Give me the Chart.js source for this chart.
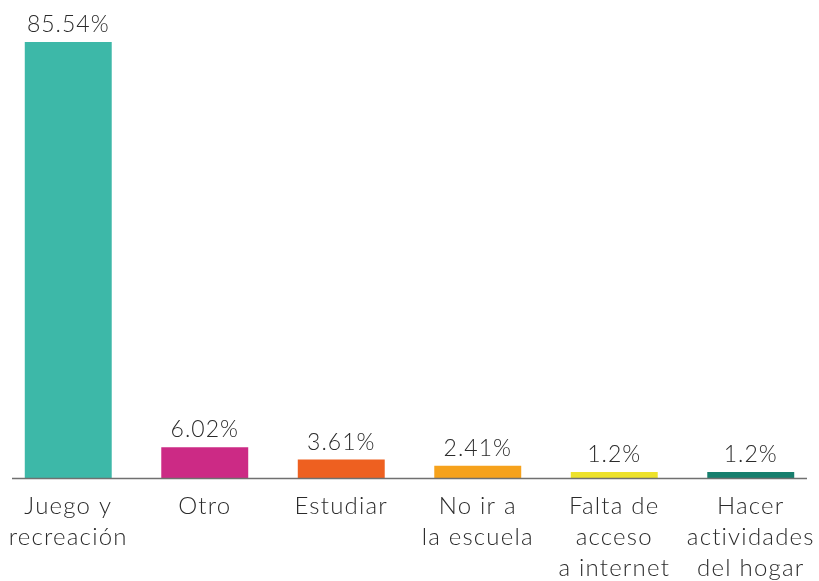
<!DOCTYPE html>
<html><head><meta charset="utf-8">
<script src="https://cdn.jsdelivr.net/npm/chart.js@4"></script>
<style>html,body{margin:0;padding:0;background:#fff}#w{width:819px;height:581px}</style>
</head><body><div id="w"><canvas id="c"></canvas></div>
<script>
const categories = [["Juego y","recreación"],["Otro"],["Estudiar"],["No ir a","la escuela"],["Falta de","acceso","a internet"],["Hacer","actividades","del hogar"]];
const values = [85.54, 6.02, 3.61, 2.41, 1.2, 1.2];
const valueLabels = ["85.54%","6.02%","3.61%","2.41%","1.2%","1.2%"];
const colors = ["#3db8a8","#cc2a85","#ee6020","#f6a21c","#ede22b","#177f6e"];
const FONT = "Lato, 'Open Sans', sans-serif";

const spacingPlugin = {
  id:'spacing',
  beforeDraw(chart){ chart.ctx.letterSpacing = "1.2px"; }
};
const labelPlugin = {
  id:'vlabels',
  afterDatasetsDraw(chart){
    const ctx = chart.ctx;
    const meta = chart.getDatasetMeta(0);
    ctx.save();
    ctx.letterSpacing = "1px";
    ctx.font = "300 23px " + FONT;
    ctx.fillStyle = "#2b2b2b";
    ctx.textAlign = "center";
    ctx.textBaseline = "alphabetic";
    meta.data.forEach((b,i)=>{ ctx.fillText(valueLabels[i], b.x, b.y - 10); });
    const a = chart.chartArea;
    ctx.strokeStyle = "#707070";
    ctx.lineWidth = 1.5;
    ctx.beginPath();
    ctx.moveTo(a.left + 12, a.bottom + 0.5);
    ctx.lineTo(a.right - 12, a.bottom + 0.5);
    ctx.stroke();
    ctx.restore();
  }
};

new Chart(document.getElementById('c'), {
  type:'bar',
  data:{ labels: categories, datasets:[{ data: values, backgroundColor: colors, categoryPercentage: 1, barPercentage: 0.637 }]},
  options:{
    responsive:true, maintainAspectRatio:false, animation:false,
    layout:{ padding:0 },
    plugins:{ legend:{display:false}, tooltip:{enabled:false} },
    scales:{
      y:{ display:false, min:0, max:93.8 },
      x:{
        grid:{ display:false, drawTicks:false },
        border:{ display:false },
        ticks:{ color:"#2b2b2b", font:{ family:FONT, size:24, weight:'300', lineHeight:1.29 }, padding:13, maxRotation:0, autoSkip:false },
        afterFit(s){ s.height = 103; s.paddingLeft = 0; s.paddingRight = 0; }
      }
    }
  },
  plugins:[spacingPlugin, labelPlugin]
});
</script></body></html>
